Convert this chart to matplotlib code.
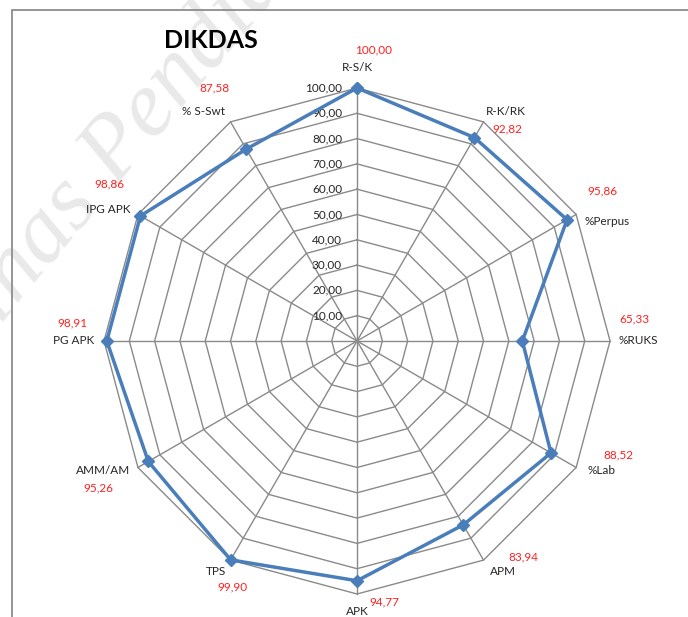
import numpy as np
import matplotlib.pyplot as plt
from matplotlib.patches import Rectangle

plt.rcParams['font.family'] = ['Lato', 'DejaVu Sans']

# Indikator DIKDAS (persen)
categories = ["R-S/K", "R-K/RK", "%Perpus", "%RUKS", "%Lab", "APM",
              "APK", "TPS", "AMM/AM", "PG APK", "IPG APK", "% S-Swt"]
values = [100.00, 92.82, 95.86, 65.33, 88.52, 83.94,
          94.77, 99.90, 95.26, 98.91, 98.86, 87.58]
ring_levels = [10, 20, 30, 40, 50, 60, 70, 80, 90, 100]
r_max = 100

# where each label sits, in pixels from the outer point of its spoke
cat_offsets = [(0, 20), (22, 10), (31, -7), (28, 0), (25, -3), (19, -11),
               (0, -18), (-15, -11), (-35, -3), (-30, 0), (-30, 5), (-27, 10)]
val_offsets = [(17, 38), (24, -7), (26, 24), (24, 22), (42, 13), (40, 3),
               (27, -8), (2, -27), (-40, -20), (-32, 18), (-28, 31), (-16, 34)]

def fmt(v):
    return f"{v:.2f}".replace(".", ",")

n = len(categories)
theta = np.arange(n) * 2 * np.pi / n
theta_closed = np.append(theta, theta[0])

fig = plt.figure(figsize=(6.88, 6.17), dpi=100)

# faint watermark behind the chart
fig.text(-0.064, 0.386, "Dinas Pendidikan", family="Liberation Serif",
         style="italic", fontsize=68, color="#e9e9e9", rotation=50,
         rotation_mode="anchor", ha="left", va="baseline", zorder=-5)

# chart area border (right and bottom run off the picture)
fig.add_artist(Rectangle((12 / 688, -0.1), 1.2, 1.1 - 9.5 / 617,
                         transform=fig.transFigure, fill=False,
                         edgecolor="#8c8c8c", linewidth=1.3, zorder=-4))

ax = fig.add_axes([0.1512, 0.0373, 0.7355, 0.8201], projection="polar")
ax.set_theta_zero_location("N")
ax.set_theta_direction(-1)
ax.set_ylim(0, r_max)
ax.axis("off")
ax.patch.set_alpha(0)

grid_kw = dict(color="#8a8a8a", linewidth=1.0, clip_on=False, zorder=2)
for lvl in ring_levels:
    ax.plot(theta_closed, [lvl] * (n + 1), **grid_kw)
for t in theta:
    ax.plot([t, t], [0, r_max], **grid_kw)

# value axis labels along the top spoke
for lvl in ring_levels:
    ax.annotate(fmt(lvl), xy=(0, lvl), xytext=(-15, 0),
                textcoords="offset pixels", ha="right", va="center",
                fontsize=8.5, color="#262626", annotation_clip=False)

vals_closed = values + values[:1]
ax.plot(theta_closed, vals_closed, color="#4a7ebb", linewidth=2.5,
        marker="D", markersize=6.5, clip_on=False, zorder=4)

for t, cat, v, co, vo in zip(theta, categories, values, cat_offsets, val_offsets):
    ax.annotate(cat, xy=(t, r_max), xytext=co, textcoords="offset pixels",
                ha="center", va="center", fontsize=8.5, color="#262626",
                annotation_clip=False)
    ax.annotate(fmt(v), xy=(t, r_max), xytext=vo, textcoords="offset pixels",
                ha="center", va="center", fontsize=8.5, color="#ff2020",
                annotation_clip=False)

fig.text(211 / 688, 1 - 41 / 617, "DIKDAS", fontsize=18, fontweight="bold",
         ha="center", va="center", color="black")

fig.savefig("out.png", dpi=100)
